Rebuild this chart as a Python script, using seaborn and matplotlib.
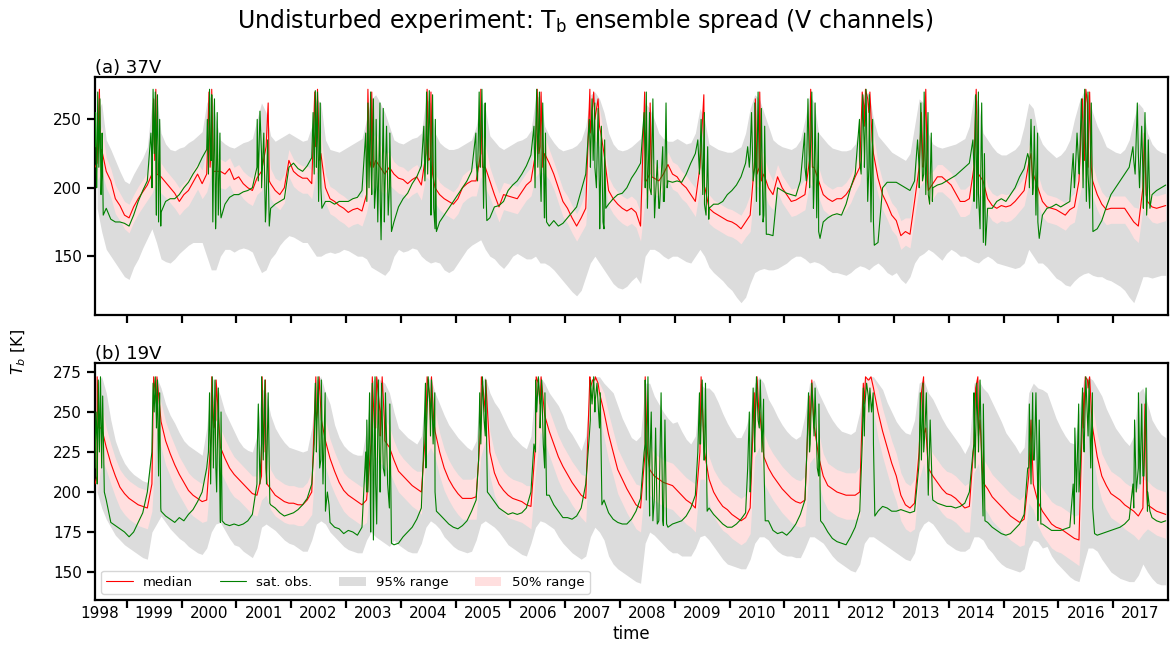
import numpy as np
import pandas as pd
import matplotlib
matplotlib.use("Agg")
import matplotlib.pyplot as plt
import seaborn as sns
from matplotlib.lines import Line2D
from matplotlib.patches import Patch

# Monthly samples, June 1998 .. December 2017 (plotted at mid-month, decimal years)
months = pd.period_range("1998-06", "2017-12", freq="M")
t_month = (months.year + (months.month - 0.5) / 12).to_numpy(dtype=float)

YEARS = list(range(1998, 2018))
YEAR_LABELS = [str(y) for y in YEARS]

# ------------------------------------------------------------------ 37V
obs37 = [
    222, 210, 185, 177, 175, 175, 174,
    172, 180, 190, 198, 205, 222, 230, 182, 190, 192, 192, 195,
    200, 204, 210, 215, 222, 228, 220, 175, 185, 188, 193, 195,
    195, 197, 198, 200, 215, 225, 185, 185, 188, 190, 192, 215,
    218, 214, 212, 216, 222, 230, 200, 190, 190, 188, 190, 190,
    190, 192, 193, 198, 205, 215, 200, 190, 195, 200, 175, 186,
    192, 196, 203, 208, 216, 228, 215, 170, 175, 180, 185, 190,
    195, 200, 205, 212, 220, 232, 215, 178, 186, 187, 190, 198,
    202, 205, 210, 216, 224, 232, 215, 178, 172, 176, 172, 174,
    178, 182, 186, 198, 210, 222, 215, 195, 170, 188, 192, 195,
    196, 200, 207, 212, 218, 222, 200, 195, 185, 190, 205, 204,
    205, 204, 210, 218, 225, 222, 188, 185, 188, 188, 190, 195,
    198, 202, 208, 218, 225, 215, 210, 180, 166, 165, 200, 198,
    196, 195, 194, 205, 215, 210, 200, 168, 175, 178, 180, 181,
    180, 188, 200, 210, 220, 225, 215, 175, 160, 200, 204, 204,
    204, 202, 200, 198, 205, 215, 210, 195, 200, 202, 203, 205,
    207, 209, 212, 215, 218, 215, 195, 175, 185, 185, 190, 192,
    190, 195, 200, 208, 214, 222, 200, 175, 180, 185, 186, 188,
    186, 188, 190, 200, 212, 220, 210, 180, 170, 176, 186, 195,
    200, 205, 210, 215, 220, 225, 210, 195, 195, 198, 200, 202,
]
med37 = [
    218, 228, 212, 205, 192, 187, 180,
    178, 186, 192, 197, 202, 210, 225, 208, 204, 200, 196, 190,
    195, 198, 204, 210, 203, 210, 230, 212, 212, 210, 214, 206,
    208, 203, 200, 198, 207, 212, 230, 203, 198, 195, 200, 220,
    212, 209, 207, 207, 203, 230, 225, 200, 192, 190, 187, 185,
    182, 184, 185, 183, 195, 215, 220, 215, 210, 215, 210, 207,
    206, 203, 206, 208, 202, 225, 222, 200, 195, 192, 190, 188,
    192, 200, 203, 205, 205, 225, 215, 205, 195, 186, 195, 194,
    193, 192, 197, 202, 205, 225, 230, 225, 218, 210, 200, 190,
    185, 178, 172, 178, 185, 240, 250, 245, 225, 198, 192, 188,
    185, 183, 185, 182, 172, 205, 210, 207, 205, 210, 217, 210,
    208, 203, 200, 195, 190, 215, 200, 185, 182, 180, 178, 176,
    175, 173, 170, 175, 180, 220, 215, 210, 200, 195, 208, 200,
    195, 190, 191, 193, 195, 220, 215, 205, 195, 192, 190, 192,
    192, 195, 200, 208, 215, 245, 255, 225, 207, 195, 188, 180,
    176, 165, 168, 166, 190, 215, 220, 198, 203, 208, 208, 205,
    202, 196, 190, 190, 192, 215, 210, 205, 192, 187, 185, 187,
    186, 187, 190, 194, 198, 218, 210, 200, 190, 186, 185, 184,
    182, 180, 184, 186, 205, 225, 215, 205, 195, 188, 184, 185,
    185, 185, 185, 180, 175, 172, 200, 190, 186, 185, 186, 187,
]
hi50_37 = [
    228, 245, 222, 214, 202, 196, 190,
    188, 195, 201, 206, 211, 225, 245, 218, 213, 209, 205, 200,
    204, 207, 213, 218, 213, 228, 250, 225, 221, 219, 222, 215,
    217, 212, 209, 207, 218, 228, 245, 214, 207, 205, 210, 228,
    221, 218, 216, 216, 213, 248, 240, 210, 201, 199, 196, 194,
    191, 193, 194, 193, 208, 235, 240, 232, 225, 226, 219, 216,
    215, 212, 215, 217, 212, 242, 238, 211, 204, 201, 199, 197,
    201, 209, 212, 214, 215, 242, 232, 215, 205, 196, 204, 203,
    202, 201, 206, 211, 215, 242, 248, 238, 228, 219, 209, 199,
    194, 187, 181, 188, 198, 255, 262, 258, 238, 208, 201, 197,
    194, 192, 194, 191, 182, 222, 225, 218, 214, 219, 226, 219,
    217, 212, 209, 204, 200, 232, 214, 195, 191, 189, 187, 185,
    184, 182, 180, 186, 195, 238, 232, 224, 212, 205, 217, 209,
    204, 199, 200, 202, 206, 238, 230, 215, 204, 201, 199, 201,
    201, 204, 209, 217, 226, 258, 265, 240, 218, 205, 197, 189,
    185, 176, 178, 178, 202, 232, 236, 210, 212, 217, 217, 214,
    211, 205, 199, 199, 202, 232, 226, 216, 201, 196, 194, 196,
    195, 196, 199, 203, 208, 232, 224, 210, 199, 195, 194, 193,
    191, 189, 193, 196, 218, 242, 232, 217, 205, 197, 193, 194,
    194, 194, 194, 190, 186, 185, 215, 201, 195, 194, 195, 196,
]
lo50_37 = [
    205, 212, 200, 193, 181, 176, 170,
    167, 175, 181, 186, 191, 196, 205, 196, 193, 189, 185, 180,
    184, 187, 193, 199, 192, 197, 210, 198, 200, 199, 202, 195,
    197, 192, 189, 187, 195, 198, 212, 192, 187, 184, 189, 208,
    201, 198, 196, 196, 192, 212, 208, 189, 181, 179, 176, 174,
    171, 173, 174, 172, 182, 198, 202, 198, 195, 202, 199, 196,
    195, 192, 195, 197, 191, 208, 205, 189, 184, 181, 179, 177,
    181, 189, 192, 194, 194, 208, 200, 193, 184, 175, 184, 183,
    182, 181, 186, 191, 194, 208, 212, 210, 206, 199, 189, 179,
    174, 167, 161, 167, 173, 222, 235, 230, 210, 187, 181, 177,
    174, 172, 174, 171, 161, 192, 196, 195, 194, 199, 206, 199,
    197, 192, 189, 184, 179, 200, 188, 174, 171, 169, 167, 165,
    164, 162, 159, 164, 168, 202, 200, 197, 188, 184, 197, 189,
    184, 179, 180, 182, 184, 203, 200, 193, 184, 181, 179, 181,
    181, 184, 189, 197, 203, 228, 240, 210, 195, 184, 177, 169,
    165, 155, 158, 156, 178, 200, 205, 187, 192, 197, 197, 194,
    191, 185, 179, 179, 181, 200, 196, 193, 181, 176, 174, 176,
    175, 176, 179, 183, 187, 203, 197, 189, 179, 175, 174, 173,
    171, 169, 173, 175, 192, 208, 200, 193, 184, 177, 173, 174,
    174, 174, 174, 169, 163, 160, 185, 179, 175, 174, 175, 176,
]
hi95_37 = [
    255, 262, 235, 228, 220, 212, 205,
    203, 210, 216, 222, 230, 262, 268, 240, 232, 228, 227, 229,
    230, 233, 235, 238, 241, 262, 268, 250, 235, 232, 230, 229,
    231, 233, 234, 236, 250, 262, 255, 238, 234, 236, 238, 240,
    238, 236, 234, 235, 245, 265, 262, 235, 228, 227, 226, 228,
    230, 232, 234, 236, 250, 265, 268, 262, 255, 245, 235, 233,
    232, 234, 236, 237, 240, 265, 262, 240, 233, 230, 228, 228,
    229, 231, 233, 235, 245, 265, 258, 238, 234, 230, 228, 230,
    232, 234, 235, 237, 242, 265, 268, 245, 238, 233, 229, 227,
    228, 229, 231, 235, 245, 268, 270, 265, 255, 240, 232, 228,
    227, 228, 230, 233, 236, 262, 258, 250, 240, 236, 234, 234,
    236, 234, 232, 233, 240, 258, 250, 232, 230, 228, 227, 226,
    226, 228, 230, 240, 258, 268, 265, 255, 245, 235, 232, 230,
    229, 228, 230, 235, 250, 268, 262, 240, 236, 232, 229, 228,
    227, 227, 228, 232, 245, 268, 270, 250, 238, 234, 230, 226,
    224, 222, 220, 225, 245, 265, 262, 240, 232, 230, 229, 230,
    231, 232, 234, 236, 245, 268, 262, 240, 235, 230, 226, 224,
    224, 226, 228, 232, 245, 262, 258, 240, 232, 228, 225, 222,
    224, 228, 235, 250, 262, 270, 268, 255, 245, 238, 230, 228,
    226, 225, 228, 235, 250, 262, 258, 240, 232, 228, 226, 225,
]
lo95_37 = [
    185, 168, 155, 150, 145, 140, 135,
    133, 142, 148, 156, 163, 170, 160, 148, 146, 145, 148, 152,
    155, 158, 160, 160, 160, 150, 140, 140, 150, 155, 155, 153,
    155, 156, 155, 153, 145, 138, 140, 148, 152, 158, 162, 165,
    164, 162, 160, 160, 155, 150, 150, 152, 153, 152, 153, 155,
    154, 152, 150, 150, 148, 142, 140, 138, 136, 140, 150, 155,
    153, 154, 156, 155, 150, 147, 145, 146, 145, 140, 138, 140,
    145, 150, 155, 158, 160, 162, 155, 150, 148, 144, 141, 145,
    150, 152, 150, 148, 148, 150, 145, 145, 143, 140, 136, 132,
    128, 124, 121, 125, 135, 145, 150, 145, 140, 135, 130, 127,
    126, 128, 132, 135, 130, 150, 155, 155, 153, 150, 148, 150,
    150, 148, 146, 145, 150, 155, 150, 142, 138, 135, 132, 128,
    125, 120, 116, 120, 130, 138, 140, 141, 140, 140, 141, 143,
    145, 148, 150, 150, 148, 145, 146, 145, 143, 140, 138, 138,
    137, 136, 138, 141, 143, 142, 140, 143, 145, 142, 138, 136,
    138, 133, 130, 135, 145, 150, 152, 155, 153, 150, 147, 152,
    155, 153, 150, 150, 148, 146, 145, 148, 150, 148, 145, 144,
    143, 142, 141, 142, 145, 155, 150, 145, 145, 142, 138, 134,
    132, 129, 128, 132, 135, 137, 138, 136, 135, 135, 133, 132,
    130, 128, 125, 120, 116, 125, 135, 135, 134, 135, 136, 136,
]
# melt-season excursions (decimal year, K)
obs37_melt = [
    (1998.42, 230), (1998.43, 255), (1998.45, 200), (1998.47, 270), (1998.49, 215),
    (1998.51, 265), (1998.53, 195), (1998.55, 240), (1998.57, 180),
    (1999.44, 240), (1999.46, 200), (1999.48, 272), (1999.50, 225), (1999.52, 270),
    (1999.54, 180), (1999.56, 268), (1999.58, 175), (1999.60, 250), (1999.62, 172),
    (2000.47, 250), (2000.49, 210), (2000.51, 272), (2000.53, 220), (2000.55, 268),
    (2000.57, 175), (2000.60, 265), (2000.62, 170), (2000.65, 255), (2000.67, 180),
    (2000.70, 240), (2000.72, 178),
    (2001.38, 250), (2001.40, 205), (2001.43, 256), (2001.46, 200), (2001.50, 240),
    (2001.53, 175), (2001.57, 235), (2001.60, 172),
    (2002.40, 255), (2002.42, 210), (2002.44, 271), (2002.46, 215), (2002.48, 270),
    (2002.50, 190), (2002.53, 262), (2002.56, 185),
    (2003.36, 240), (2003.38, 190), (2003.40, 262), (2003.42, 200), (2003.45, 270),
    (2003.47, 195), (2003.50, 265), (2003.52, 185), (2003.55, 250), (2003.58, 175),
    (2003.62, 262), (2003.64, 162), (2003.68, 258), (2003.70, 175), (2003.74, 245),
    (2003.77, 180), (2003.80, 240), (2003.83, 168),
    (2004.42, 245), (2004.44, 205), (2004.47, 270), (2004.49, 210), (2004.52, 271),
    (2004.55, 180), (2004.58, 268), (2004.60, 185), (2004.63, 250), (2004.65, 168),
    (2005.37, 240), (2005.40, 205), (2005.43, 270), (2005.45, 215), (2005.48, 272),
    (2005.51, 185), (2005.54, 262), (2005.57, 176),
    (2006.43, 245), (2006.45, 200), (2006.48, 272), (2006.50, 215), (2006.53, 270),
    (2006.56, 190), (2006.59, 262), (2006.62, 178), (2006.64, 240), (2006.66, 175),
    (2007.44, 250), (2007.46, 215), (2007.49, 265), (2007.51, 220), (2007.54, 262),
    (2007.57, 200), (2007.60, 258), (2007.63, 170), (2007.66, 245), (2007.69, 175),
    (2007.72, 235), (2007.74, 185),
    (2008.44, 255), (2008.46, 200), (2008.48, 270), (2008.50, 185), (2008.54, 255),
    (2008.57, 195), (2008.60, 265), (2008.63, 178), (2008.68, 220), (2008.72, 185),
    (2008.78, 230), (2008.81, 190), (2008.84, 262), (2008.86, 200),
    (2009.42, 235), (2009.45, 210), (2009.48, 250), (2009.51, 195), (2009.54, 255),
    (2009.57, 180), (2009.60, 230), (2009.62, 177),
    (2010.33, 230), (2010.36, 215), (2010.40, 255), (2010.43, 205), (2010.46, 262),
    (2010.49, 190), (2010.52, 270), (2010.55, 180), (2010.58, 258), (2010.61, 175),
    (2010.64, 245), (2010.67, 166),
    (2011.37, 240), (2011.40, 205), (2011.43, 265), (2011.46, 200), (2011.50, 270),
    (2011.53, 185), (2011.56, 262), (2011.59, 178), (2011.62, 240), (2011.65, 163),
    (2012.37, 250), (2012.40, 210), (2012.43, 268), (2012.46, 215), (2012.49, 272),
    (2012.52, 190), (2012.55, 268), (2012.58, 175), (2012.61, 250), (2012.64, 158),
    (2013.43, 235), (2013.46, 200), (2013.49, 262), (2013.52, 205), (2013.55, 270),
    (2013.58, 195), (2013.62, 255), (2013.65, 188), (2013.68, 240), (2013.70, 190),
    (2014.44, 235), (2014.46, 190), (2014.49, 268), (2014.51, 185), (2014.54, 270),
    (2014.57, 170), (2014.60, 262), (2014.63, 160), (2014.65, 225), (2014.67, 158),
    (2015.44, 225), (2015.47, 200), (2015.50, 250), (2015.53, 195), (2015.56, 245),
    (2015.59, 180), (2015.62, 240), (2015.65, 163),
    (2016.27, 225), (2016.30, 205), (2016.34, 240), (2016.38, 210), (2016.42, 265),
    (2016.45, 200), (2016.48, 272), (2016.51, 190), (2016.54, 270), (2016.57, 185),
    (2016.60, 262), (2016.63, 168),
    (2017.36, 230), (2017.40, 210), (2017.44, 262), (2017.48, 200), (2017.52, 245),
    (2017.55, 185), (2017.58, 255), (2017.61, 180), (2017.64, 235), (2017.67, 185),
]
med37_melt = [
    (1998.42, 215), (1998.50, 272), (1998.52, 225),
    (1999.49, 265), (1999.51, 220), (1999.53, 272), (1999.55, 210),
    (2000.50, 270), (2000.52, 215), (2000.55, 272), (2000.58, 212),
    (2001.58, 262), (2001.60, 205),
    (2002.43, 270), (2002.45, 230), (2002.48, 272), (2002.52, 220),
    (2003.40, 272), (2003.43, 220), (2003.47, 270), (2003.50, 215),
    (2004.48, 272), (2004.51, 220), (2004.55, 270), (2004.58, 210),
    (2005.46, 272), (2005.49, 215),
    (2006.49, 272), (2006.52, 225), (2006.56, 270), (2006.59, 215),
    (2007.45, 272), (2007.48, 250), (2007.52, 270), (2007.56, 255), (2007.60, 265),
    (2007.65, 240),
    (2008.45, 270), (2008.48, 205), (2008.55, 262), (2008.58, 208),
    (2009.53, 268), (2009.55, 200),
    (2010.47, 265), (2010.50, 210), (2010.55, 270), (2010.58, 205),
    (2011.48, 272), (2011.51, 215),
    (2012.42, 270), (2012.45, 260), (2012.48, 272), (2012.52, 265), (2012.56, 270),
    (2012.60, 235),
    (2013.50, 255), (2013.53, 215), (2013.58, 272), (2013.61, 205),
    (2014.50, 272), (2014.53, 210),
    (2015.50, 225), (2015.53, 205),
    (2016.44, 265), (2016.47, 220), (2016.50, 272), (2016.53, 262), (2016.57, 270),
    (2016.60, 215),
    (2017.57, 240), (2017.60, 195),
]

# ------------------------------------------------------------------ 19V
obs19 = [
    232, 215, 195, 181, 179, 177, 175,
    172, 175, 181, 187, 200, 225, 240, 188, 185, 183, 181, 184,
    182, 186, 189, 194, 200, 215, 230, 215, 181, 180, 179, 180,
    179, 180, 182, 186, 205, 230, 215, 192, 190, 187, 185, 186,
    187, 189, 192, 196, 205, 235, 220, 188, 181, 178, 177, 174,
    176, 175, 173, 178, 200, 215, 205, 200, 210, 190, 167, 168,
    172, 175, 178, 183, 190, 215, 235, 200, 186, 183, 180, 178,
    177, 179, 182, 188, 195, 230, 235, 198, 194, 190, 188, 186,
    187, 186, 187, 190, 200, 225, 240, 215, 198, 192, 188, 184,
    184, 183, 185, 190, 205, 245, 250, 240, 195, 187, 183, 181,
    180, 180, 183, 188, 196, 230, 215, 195, 182, 179, 178, 180,
    181, 182, 185, 190, 198, 230, 220, 190, 186, 183, 180, 178,
    178, 180, 183, 187, 200, 225, 240, 220, 182, 176, 174, 175,
    173, 176, 180, 186, 195, 225, 235, 210, 180, 175, 171, 169,
    168, 167, 172, 178, 188, 235, 250, 230, 188, 191, 190, 188,
    188, 189, 188, 187, 188, 220, 225, 198, 195, 193, 192, 191,
    191, 190, 191, 193, 200, 230, 225, 185, 181, 178, 176, 174,
    173, 174, 177, 180, 186, 215, 220, 182, 180, 178, 176, 176,
    176, 177, 178, 180, 200, 230, 235, 190, 173, 174, 175, 176,
    177, 178, 180, 183, 190, 215, 210, 188, 184, 182, 181, 182,
]
med19 = [
    210, 240, 228, 218, 210, 203, 199,
    196, 194, 192, 191, 190, 205, 255, 244, 232, 224, 217, 211,
    206, 201, 198, 196, 194, 195, 235, 245, 228, 221, 215, 211,
    208, 205, 202, 199, 198, 210, 215, 202, 198, 196, 194, 193,
    193, 192, 192, 195, 200, 245, 250, 232, 221, 213, 206, 201,
    198, 196, 194, 192, 195, 230, 240, 235, 232, 228, 220, 213,
    210, 207, 204, 202, 200, 240, 245, 238, 225, 215, 208, 203,
    199, 196, 196, 196, 197, 240, 250, 225, 212, 205, 201, 198,
    196, 195, 194, 192, 191, 230, 255, 248, 238, 230, 222, 216,
    211, 206, 202, 198, 196, 265, 270, 262, 250, 236, 225, 214,
    208, 202, 197, 192, 190, 225, 214, 210, 208, 206, 205, 204,
    201, 198, 195, 193, 190, 225, 225, 208, 200, 195, 191, 189,
    186, 184, 182, 184, 190, 240, 245, 222, 215, 210, 206, 202,
    199, 196, 194, 193, 195, 235, 240, 222, 210, 204, 202, 200,
    199, 198, 198, 198, 200, 255, 270, 265, 250, 238, 228, 218,
    210, 198, 192, 190, 193, 225, 235, 215, 210, 206, 202, 199,
    198, 196, 193, 190, 191, 230, 235, 206, 202, 197, 194, 191,
    188, 185, 183, 181, 183, 210, 205, 194, 188, 184, 180, 178,
    177, 175, 173, 171, 170, 240, 265, 240, 222, 210, 204, 199,
    197, 195, 192, 190, 188, 185, 190, 192, 190, 188, 187, 186,
]
hi50_19 = [
    225, 255, 240, 230, 221, 214, 210,
    207, 205, 203, 202, 201, 225, 266, 256, 244, 236, 229, 222,
    217, 212, 209, 207, 205, 212, 255, 257, 240, 233, 227, 222,
    219, 216, 213, 210, 210, 228, 232, 214, 209, 207, 205, 204,
    204, 203, 203, 206, 213, 260, 262, 245, 233, 225, 218, 212,
    209, 207, 205, 203, 208, 248, 256, 250, 246, 241, 232, 225,
    221, 218, 215, 213, 213, 256, 258, 251, 237, 227, 220, 215,
    211, 208, 208, 208, 210, 256, 262, 238, 225, 218, 213, 210,
    208, 207, 206, 204, 204, 248, 266, 260, 251, 243, 235, 229,
    224, 219, 215, 211, 210, 270, 272, 268, 262, 249, 238, 227,
    221, 215, 210, 205, 204, 242, 230, 224, 222, 220, 219, 218,
    215, 212, 209, 207, 205, 242, 240, 222, 214, 209, 205, 203,
    200, 198, 196, 198, 206, 256, 258, 237, 229, 224, 220, 216,
    213, 210, 208, 207, 210, 252, 255, 237, 224, 218, 216, 214,
    213, 212, 212, 212, 216, 268, 272, 270, 264, 252, 242, 232,
    224, 212, 206, 204, 208, 242, 250, 230, 224, 220, 216, 213,
    212, 210, 207, 204, 206, 248, 250, 221, 216, 211, 208, 205,
    202, 199, 197, 195, 198, 228, 222, 209, 202, 198, 194, 192,
    191, 189, 187, 185, 186, 256, 270, 254, 236, 224, 218, 213,
    211, 209, 206, 204, 203, 202, 208, 207, 204, 202, 201, 200,
]
lo50_19 = [
    198, 220, 214, 205, 197, 190, 186,
    183, 181, 179, 178, 177, 188, 238, 228, 217, 210, 203, 198,
    193, 188, 185, 183, 181, 182, 215, 228, 213, 207, 201, 197,
    195, 192, 189, 186, 185, 195, 198, 189, 185, 183, 181, 180,
    180, 179, 179, 182, 186, 225, 232, 216, 206, 199, 193, 188,
    185, 183, 181, 179, 181, 212, 222, 218, 216, 213, 206, 200,
    197, 194, 191, 189, 186, 222, 228, 222, 210, 201, 195, 190,
    186, 183, 183, 183, 183, 222, 232, 210, 198, 191, 187, 184,
    183, 182, 181, 179, 177, 212, 238, 232, 223, 215, 207, 201,
    197, 192, 188, 184, 181, 245, 258, 248, 234, 220, 210, 199,
    193, 187, 182, 177, 175, 208, 198, 195, 193, 191, 190, 189,
    186, 183, 180, 178, 175, 208, 208, 193, 185, 180, 176, 174,
    171, 169, 167, 169, 174, 222, 228, 206, 200, 195, 191, 187,
    184, 181, 179, 178, 179, 218, 222, 206, 195, 189, 187, 185,
    184, 183, 183, 183, 184, 238, 258, 250, 234, 222, 212, 202,
    194, 182, 177, 175, 177, 208, 218, 200, 195, 191, 187, 184,
    183, 181, 178, 175, 175, 212, 218, 191, 187, 182, 179, 176,
    173, 170, 168, 166, 167, 193, 189, 179, 173, 169, 165, 163,
    162, 160, 158, 156, 154, 222, 250, 224, 206, 195, 189, 184,
    182, 180, 177, 175, 173, 170, 174, 177, 175, 173, 172, 171,
]
hi95_19 = [
    268, 272, 262, 245, 232, 224, 218,
    214, 211, 209, 207, 206, 230, 272, 265, 255, 248, 243, 237,
    232, 229, 227, 225, 223, 240, 272, 268, 260, 250, 244, 238,
    232, 228, 226, 225, 235, 265, 262, 248, 240, 235, 231, 228,
    227, 226, 225, 226, 240, 270, 272, 262, 255, 242, 234, 229,
    226, 224, 223, 223, 240, 268, 272, 270, 268, 262, 250, 240,
    237, 234, 232, 230, 235, 268, 272, 262, 255, 248, 242, 238,
    234, 231, 228, 226, 232, 268, 272, 262, 256, 252, 246, 240,
    235, 232, 229, 227, 235, 268, 272, 268, 262, 258, 254, 248,
    240, 236, 231, 226, 235, 270, 272, 272, 268, 265, 262, 254,
    246, 240, 234, 232, 235, 268, 268, 260, 255, 250, 246, 243,
    244, 238, 233, 230, 235, 268, 265, 265, 262, 256, 249, 243,
    238, 234, 234, 240, 250, 268, 272, 268, 258, 253, 247, 242,
    238, 235, 233, 235, 248, 268, 270, 262, 256, 250, 245, 241,
    238, 237, 236, 238, 250, 270, 272, 272, 268, 264, 256, 250,
    244, 240, 237, 236, 245, 268, 270, 262, 258, 252, 246, 241,
    237, 233, 229, 224, 230, 268, 270, 265, 262, 256, 250, 244,
    237, 233, 229, 224, 228, 262, 268, 265, 264, 262, 254, 246,
    240, 235, 231, 230, 250, 270, 272, 270, 265, 260, 252, 246,
    240, 236, 232, 229, 235, 262, 265, 255, 245, 240, 236, 234,
]
lo95_19 = [
    200, 190, 183, 178, 173, 170, 167,
    165, 163, 161, 159, 158, 175, 180, 185, 181, 177, 174, 171,
    169, 166, 164, 162, 161, 165, 175, 180, 181, 176, 171, 167,
    166, 163, 161, 159, 165, 178, 180, 178, 176, 173, 170, 168,
    167, 165, 163, 163, 170, 180, 182, 180, 175, 172, 169, 166,
    164, 163, 162, 162, 170, 175, 172, 170, 168, 166, 170, 167,
    165, 163, 162, 162, 168, 178, 182, 180, 177, 172, 169, 166,
    164, 163, 162, 163, 170, 180, 182, 180, 178, 175, 171, 167,
    165, 163, 161, 160, 168, 178, 182, 181, 179, 177, 172, 168,
    165, 162, 160, 158, 160, 172, 178, 175, 170, 160, 155, 152,
    150, 148, 146, 144, 143, 168, 175, 173, 170, 167, 164, 162,
    162, 160, 160, 160, 165, 172, 173, 170, 166, 162, 158, 155,
    154, 153, 152, 152, 158, 168, 172, 172, 170, 166, 163, 161,
    160, 160, 159, 159, 165, 172, 172, 170, 168, 164, 160, 157,
    155, 153, 151, 150, 155, 168, 172, 172, 170, 168, 166, 164,
    162, 160, 158, 157, 162, 175, 180, 182, 180, 176, 172, 168,
    166, 164, 163, 163, 165, 172, 172, 170, 165, 162, 158, 155,
    153, 152, 151, 150, 152, 165, 170, 169, 165, 166, 160, 156,
    153, 150, 147, 145, 144, 155, 165, 165, 163, 158, 154, 150,
    148, 146, 145, 144, 144, 148, 155, 150, 146, 143, 142, 142,
]
obs19_melt = [
    (1998.42, 215), (1998.44, 250), (1998.46, 205), (1998.48, 270), (1998.50, 225),
    (1998.52, 272), (1998.54, 215), (1998.56, 260), (1998.59, 200),
    (1999.46, 230), (1999.48, 268), (1999.50, 250), (1999.52, 272), (1999.54, 245),
    (1999.56, 270), (1999.58, 210), (1999.60, 262), (1999.62, 190),
    (2000.49, 225), (2000.51, 262), (2000.53, 205), (2000.56, 272), (2000.58, 215),
    (2000.61, 270), (2000.64, 200), (2000.67, 265), (2000.70, 195), (2000.72, 250),
    (2000.74, 182),
    (2001.38, 225), (2001.40, 255), (2001.43, 205), (2001.46, 272), (2001.49, 220),
    (2001.52, 270), (2001.55, 205), (2001.58, 262), (2001.61, 193),
    (2002.42, 230), (2002.44, 268), (2002.46, 225), (2002.49, 272), (2002.52, 215),
    (2002.55, 270), (2002.58, 205), (2002.62, 262), (2002.66, 200), (2002.69, 192),
    (2003.36, 225), (2003.38, 245), (2003.40, 200), (2003.43, 262), (2003.45, 175),
    (2003.48, 268), (2003.50, 170), (2003.53, 272), (2003.56, 180), (2003.59, 270),
    (2003.62, 200), (2003.65, 268), (2003.68, 215), (2003.72, 262), (2003.76, 205),
    (2003.80, 255), (2003.83, 168),
    (2004.42, 230), (2004.45, 268), (2004.47, 240), (2004.50, 272), (2004.53, 255),
    (2004.56, 270), (2004.59, 230), (2004.62, 262), (2004.65, 188),
    (2005.42, 220), (2005.44, 262), (2005.46, 230), (2005.49, 272), (2005.52, 245),
    (2005.55, 270), (2005.58, 200),
    (2006.43, 230), (2006.46, 270), (2006.48, 250), (2006.51, 272), (2006.54, 255),
    (2006.57, 270), (2006.60, 230), (2006.63, 262), (2006.66, 198),
    (2007.44, 235), (2007.46, 270), (2007.49, 255), (2007.52, 272), (2007.55, 258),
    (2007.58, 268), (2007.61, 250), (2007.64, 262), (2007.67, 192),
    (2008.44, 225), (2008.46, 270), (2008.48, 195), (2008.51, 272), (2008.54, 185),
    (2008.57, 250), (2008.60, 182), (2008.65, 240), (2008.68, 180), (2008.75, 262),
    (2008.78, 182), (2008.82, 245), (2008.85, 180),
    (2009.42, 225), (2009.45, 262), (2009.47, 230), (2009.50, 270), (2009.53, 220),
    (2009.56, 268), (2009.59, 188),
    (2010.33, 215), (2010.36, 250), (2010.39, 210), (2010.43, 265), (2010.46, 230),
    (2010.49, 272), (2010.52, 245), (2010.56, 270), (2010.59, 225), (2010.62, 258),
    (2010.65, 182),
    (2011.41, 225), (2011.44, 262), (2011.47, 230), (2011.50, 268), (2011.53, 245),
    (2011.56, 265), (2011.60, 215), (2011.63, 255), (2011.66, 182),
    (2012.42, 230), (2012.44, 265), (2012.47, 255), (2012.50, 268), (2012.53, 260),
    (2012.56, 265), (2012.59, 250), (2012.62, 262), (2012.65, 185),
    (2013.45, 215), (2013.48, 262), (2013.50, 220), (2013.53, 268), (2013.56, 235),
    (2013.59, 262), (2013.62, 210), (2013.66, 245), (2013.70, 198),
    (2014.44, 225), (2014.46, 262), (2014.48, 215), (2014.51, 268), (2014.54, 230),
    (2014.57, 270), (2014.60, 215), (2014.63, 255), (2014.66, 182),
    (2015.44, 215), (2015.47, 255), (2015.50, 205), (2015.53, 262), (2015.56, 220),
    (2015.59, 262), (2015.62, 205), (2015.65, 245), (2015.68, 180),
    (2016.27, 205), (2016.30, 240), (2016.33, 200), (2016.37, 255), (2016.40, 215),
    (2016.44, 265), (2016.47, 225), (2016.50, 272), (2016.53, 245), (2016.56, 270),
    (2016.59, 215), (2016.62, 262), (2016.66, 174),
    (2017.36, 205), (2017.39, 245), (2017.42, 200), (2017.46, 262), (2017.49, 205),
    (2017.52, 255), (2017.56, 210), (2017.60, 265), (2017.63, 200), (2017.67, 188),
]
med19_melt = [
    (1998.42, 205), (1998.46, 272), (1998.49, 240),
    (1999.49, 272), (1999.52, 262), (1999.55, 272),
    (2000.55, 272), (2000.59, 240), (2000.63, 270),
    (2001.47, 272), (2001.50, 225), (2001.53, 270), (2001.56, 205),
    (2002.45, 272), (2002.48, 250), (2002.51, 272), (2002.55, 245),
    (2003.48, 272), (2003.52, 240), (2003.56, 272), (2003.62, 250), (2003.66, 272),
    (2003.70, 245),
    (2004.48, 272), (2004.52, 262), (2004.56, 272), (2004.60, 245),
    (2005.47, 272), (2005.51, 262), (2005.55, 270),
    (2006.47, 272), (2006.51, 268), (2006.56, 272),
    (2007.45, 272), (2007.50, 270), (2007.55, 272), (2007.60, 268),
    (2008.46, 272), (2008.50, 225),
    (2009.48, 272), (2009.52, 240),
    (2010.45, 262), (2010.50, 272), (2010.55, 250),
    (2011.45, 260), (2011.50, 270), (2011.55, 240),
    (2012.44, 268), (2012.48, 272), (2012.53, 270), (2012.58, 272),
    (2013.50, 262), (2013.54, 272), (2013.58, 240),
    (2014.49, 265), (2014.53, 272), (2014.57, 245),
    (2015.50, 245), (2015.53, 215),
    (2016.45, 262), (2016.49, 272), (2016.53, 270), (2016.57, 272), (2016.61, 245),
    (2017.58, 255), (2017.61, 200),
]

PANELS = [
    dict(title="(a) 37V", obs=obs37, med=med37, obs_melt=obs37_melt, med_melt=med37_melt,
         lo95=lo95_37, hi95=hi95_37, lo50=lo50_37, hi50=hi50_37,
         ylim=(107, 281), yticks=[150, 200, 250]),
    dict(title="(b) 19V", obs=obs19, med=med19, obs_melt=obs19_melt, med_melt=med19_melt,
         lo95=lo95_19, hi95=hi95_19, lo50=lo50_19, hi50=hi50_19,
         ylim=(132.5, 280.6), yticks=[150, 175, 200, 225, 250, 275]),
]

C_MED = "red"
C_OBS = "green"
C_95 = "#dcdcdc"
C_50 = "#ffdfdf"


def line_frame(monthly, melt):
    """Monthly values merged with the melt-season excursions, ordered in time."""
    t = np.r_[t_month, [p[0] for p in melt]]
    v = np.r_[np.asarray(monthly, float), [p[1] for p in melt]]
    return pd.DataFrame({"time": t, "Tb": v}).sort_values("time")


sns.set_theme(context="notebook", style="ticks")
plt.rcParams["font.family"] = ["DejaVu Sans"]
plt.rcParams.update({
    "text.color": "black",
    "axes.labelcolor": "black",
    "axes.edgecolor": "black",
    "axes.linewidth": 1.6,
    "xtick.color": "black",
    "ytick.color": "black",
    "xtick.major.width": 1.6,
    "ytick.major.width": 1.6,
    "xtick.major.size": 6,
    "ytick.major.size": 6,
    "xtick.labelsize": 11,
    "ytick.labelsize": 11,
})

fig = plt.figure(figsize=(11.7, 6.5), dpi=100)
ax_a = fig.add_axes([0.0812, 0.5154, 0.9171, 0.3662])
ax_b = fig.add_axes([0.0812, 0.0769, 0.9171, 0.3646], sharex=ax_a)

for ax, p in zip([ax_a, ax_b], PANELS):
    ax.fill_between(t_month, p["lo95"], p["hi95"], color=C_95, lw=0, zorder=1)
    ax.fill_between(t_month, p["lo50"], p["hi50"], color=C_50, lw=0, zorder=2)
    sns.lineplot(data=line_frame(p["med"], p["med_melt"]), x="time", y="Tb", ax=ax,
                 color=C_MED, lw=0.8, estimator=None, sort=False, zorder=3)
    sns.lineplot(data=line_frame(p["obs"], p["obs_melt"]), x="time", y="Tb", ax=ax,
                 color=C_OBS, lw=0.8, estimator=None, sort=False, zorder=4)
    ax.set_ylim(*p["ylim"])
    ax.set_yticks(p["yticks"])
    ax.set_ylabel("")
    ax.set_xlabel("")
    ax.set_title(p["title"], loc="left", fontsize=13, pad=3, color="black")
    for s in ax.spines.values():
        s.set_visible(True)

ax_a.set_xlim(1998.42, 2018.0)
ax_b.set_xticks(np.arange(1999, 2018))
ax_b.set_xticks(np.arange(1998.5, 2018.0, 1.0), minor=True)
ax_b.set_xticklabels([], minor=False)
ax_b.set_xticklabels(YEAR_LABELS, minor=True)
for ax in (ax_a, ax_b):
    ax.tick_params(axis="x", which="minor", length=0, pad=4)
ax_a.tick_params(axis="x", which="both", labelbottom=False)

ax_b.set_xlabel("time", fontsize=12, labelpad=3, color="black")
fig.text(0.016, 0.458, "$T_b$ [K]", rotation=90, ha="center", va="center",
         fontsize=11.5, color="black")
fig.text(0.5, 0.968, "Undisturbed experiment: T$_\\mathrm{b}$ ensemble spread (V channels)",
         ha="center", va="center", fontsize=17, color="black")

handles = [
    Line2D([], [], color=C_MED, lw=0.8),
    Line2D([], [], color=C_OBS, lw=0.8),
    Patch(facecolor=C_95, edgecolor="none"),
    Patch(facecolor=C_50, edgecolor="none"),
]
leg = ax_b.legend(handles, ["median", "sat. obs.", "95% range", "50% range"], loc="lower left",
                  ncol=4, fontsize=9.5, frameon=True, columnspacing=2.0, borderaxespad=0.45)
for txt in leg.get_texts():
    txt.set_color("black")

fig.savefig("out.png", dpi=100)
